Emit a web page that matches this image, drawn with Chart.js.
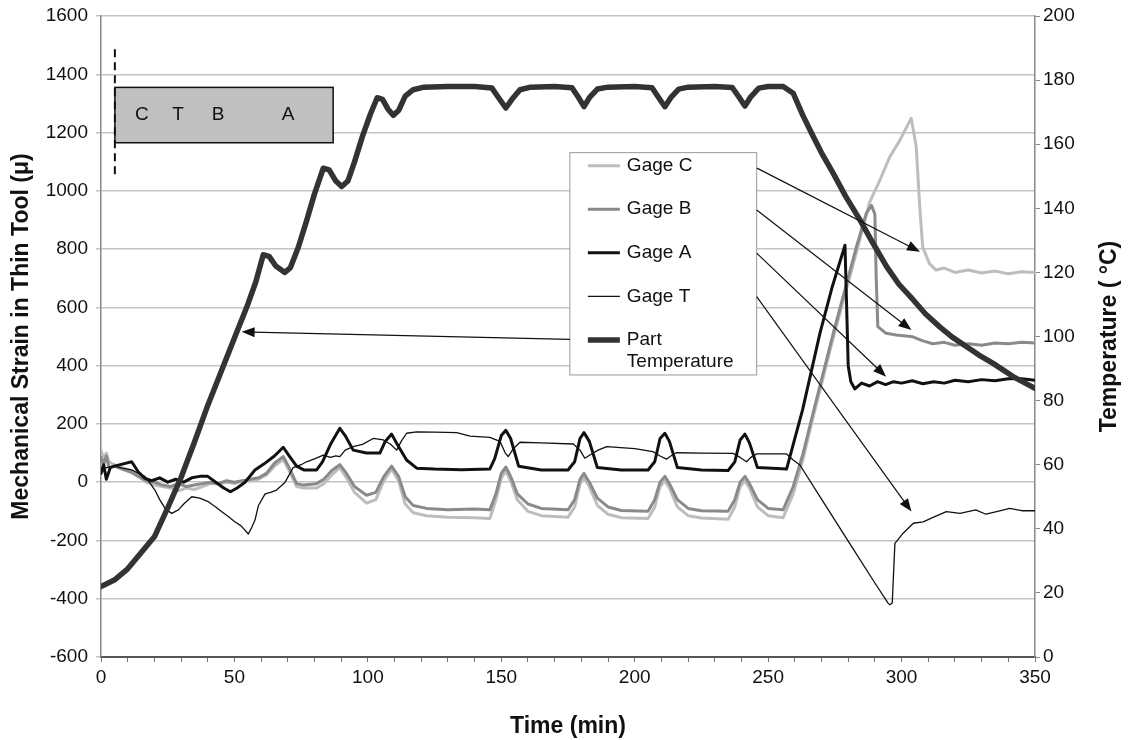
<!DOCTYPE html>
<html>
<head>
<meta charset="utf-8">
<script src="https://cdn.jsdelivr.net/npm/chart.js@4.4.0/dist/chart.umd.min.js"></script>
<style>
  html, body { margin: 0; padding: 0; background: #fff; }
</style>
</head>
<body>
<canvas id="myChart" width="1131" height="740"></canvas>
<script>
// ---- data (time in min, strain in micro-strain, temp in C) ----

// Gage A (thick black)
const timeA = [0, 1, 2, 3.5, 5, 8, 11.5, 14, 16.5, 19, 22, 25, 28, 31, 34, 37, 40, 43, 46, 48.5,
  51, 54, 57.7, 61, 65, 68.3, 70.5, 73.3, 76, 80.8, 83, 86, 89.5, 91.5, 94.5, 99.5, 104.5, 106.5, 108.9, 111,
  114.5, 118.3, 125, 135, 145.7, 147.5, 150, 151.7, 153.5, 156.5, 165, 175, 177.5, 179.5, 181, 183, 186, 195, 205, 207.5,
  209.5, 211.3, 213, 216, 225, 235, 237.5, 239.5, 241.3, 243, 246, 256.9, 262.9, 269.4, 274, 278.8, 280, 281, 282.5, 285,
  288, 291, 294, 297, 300, 304, 308, 312, 316, 320, 325, 330, 335, 340, 345, 350];
const gageA = [30, 60, 10, 50, 55, 62, 70, 35, 13, 5, 15, 0, 10, 0, 15, 20, 20, 0, -20, -33,
  -20, 0, 42, 62, 90, 120, 90, 55, 42, 42, 70, 130, 185, 160, 110, 100, 100, 140, 165, 130,
  76, 48, 45, 43, 45, 80, 160, 178, 150, 55, 42, 42, 70, 150, 170, 140, 50, 42, 42, 70,
  150, 168, 140, 50, 42, 40, 70, 145, 165, 135, 50, 45, 248, 511, 670, 813, 400, 345, 320, 340,
  330, 345, 335, 345, 340, 348, 338, 345, 340, 350, 345, 352, 348, 355, 355, 350];

// Gage B (mid grey)
const timeB = [0, 1, 2, 3, 5, 8, 11, 14, 17, 20, 23, 26, 29, 32, 35, 38, 41, 44, 47, 50,
  53, 56, 59, 62, 65, 68.3, 70.5, 73.3, 76, 80.8, 83.5, 86.5, 89.5, 92, 95, 99.5, 103, 106, 108.9, 111.5,
  114, 117, 122, 130, 140, 145.7, 148, 150, 151.7, 153.5, 156, 160, 165, 175, 177.5, 179.5, 181, 183, 186, 190,
  195, 205, 207.5, 209.5, 211.3, 213, 216, 220, 225, 235, 237.5, 239.5, 241.3, 243, 246, 250, 255.6, 259.4, 263.1, 266.9,
  274.4, 283.1, 286.8, 288.7, 290, 290.5, 291.1, 294.2, 298, 304.2, 308, 311.7, 316, 320, 325, 330, 335, 340, 345, 350];
const gageB = [85, 60, 90, 50, 55, 45, 35, 20, 5, 0, -10, -15, -5, -15, -10, -5, 0, -5, 5, 0,
  5, 10, 15, 30, 65, 88, 50, -5, -10, -5, 10, 40, 60, 30, -15, -45, -35, 20, 55, 20,
  -50, -80, -90, -95, -92, -95, -40, 30, 52, 20, -40, -75, -90, -95, -60, 10, 30, 0, -55, -85,
  -97, -100, -60, 0, 20, -5, -60, -90, -98, -100, -60, 0, 20, -5, -60, -90, -95, -15, 99, 240,
  511, 808, 923, 950, 920, 700, 534, 511, 505, 499, 485, 475, 480, 470, 475, 470, 478, 475, 480, 478];

// Gage C (light grey)
const timeC = [0, 1, 2, 3, 5, 8, 11, 14, 17, 20, 23, 26, 29, 32, 35, 38, 41, 44, 47, 50,
  53, 56, 59, 62, 65, 68.3, 70.5, 73.3, 76, 80.8, 83.5, 86.5, 89.5, 92, 95, 99.5, 103, 106, 108.9, 111.5,
  114, 117, 122, 130, 140, 145.7, 148, 150, 151.7, 153.5, 156, 160, 165, 175, 177.5, 179.5, 181, 183, 186, 190,
  195, 205, 207.5, 209.5, 211.3, 213, 216, 220, 225, 235, 237.5, 239.5, 241.3, 243, 246, 250, 255.6, 259.4, 263.1, 266.9,
  274.4, 283.1, 288, 291.9, 295.6, 299.4, 303.6, 305.5, 306.8, 307.9, 310.4, 312.9, 316, 320, 325, 330, 335, 340, 345, 350];
const gageC = [110, 80, 100, 70, 60, 50, 40, 20, 0, -10, -15, -20, -30, -20, -25, -15, -5, -5, 0, -5,
  5, 5, 10, 25, 55, 78, 40, -15, -20, -20, -5, 25, 50, 15, -35, -72, -60, 5, 45, 5,
  -75, -105, -115, -120, -122, -125, -60, 15, 38, 5, -60, -100, -115, -120, -85, -5, 15, -15, -80, -110,
  -122, -125, -85, -15, 5, -20, -85, -115, -123, -127, -85, -15, 5, -20, -85, -115, -122, -40, 80, 225,
  495, 790, 960, 1037, 1117, 1174, 1249, 1151, 946, 808, 751, 728, 735, 720, 728, 718, 725, 715, 722, 720];

// Gage T (thin black)
const timeT = [0, 2, 5, 8, 11.5, 14, 16.5, 18.5, 20.2, 22, 24, 26.5, 29, 31, 34, 37, 40.2, 43, 45, 47.7,
  50, 52.5, 55.2, 56.5, 57.7, 59, 61.5, 63.5, 65.8, 69, 72, 75, 77, 80, 83.3, 86, 88, 89.5, 91.5, 94.5,
  98, 102, 105.8, 108.5, 110.8, 112.5, 114.5, 118.3, 125, 133.3, 138.3, 145.7, 149.5, 151.5, 152.6, 154.5, 157, 165, 177, 179.5,
  181.3, 183.5, 186.3, 189.5, 200, 206.8, 209.5, 211.9, 213.5, 215.6, 225, 236.9, 239.5, 241.9, 243.5, 245.7, 256.9, 259.4, 261.9, 270,
  280, 290, 295, 295.6, 296.5, 297.5, 300.6, 304.4, 308.1, 312, 316.8, 321.9, 327.8, 331.6, 336, 340.5, 345, 350];
const gageT = [40, 50, 55, 48, 42, 30, 19, -5, -27, -60, -90, -107, -95, -75, -50, -55, -67, -85, -100, -118,
  -135, -150, -178, -155, -130, -80, -40, -35, -27, 0, 50, 60, 70, 80, 93, 85, 90, 88, 110, 122,
  130, 150, 145, 130, 110, 140, 168, 173, 172, 170, 158, 154, 140, 100, 88, 115, 137, 135, 131, 110,
  82, 95, 110, 122, 115, 105, 90, 79, 90, 101, 100, 99, 85, 70, 85, 97, 97, 76, 59, -58,
  -202, -346, -416, -421, -415, -210, -175, -141, -136, -120, -101, -107, -95, -110, -100, -90, -98, -98];

// Part temperature (right axis)
const timeP = [0, 5, 10, 15, 20, 25, 30, 35, 40, 45, 50, 55, 58, 60.8, 63, 65.5, 68.9, 71, 74, 77,
  80, 83.3, 85.5, 88, 90.2, 92.5, 95, 98, 101, 103.5, 105.5, 107.5, 109.5, 111.5, 114, 117, 121, 130, 140, 146.5,
  149, 151.7, 154, 157, 161, 170, 176.5, 179, 181, 183, 186, 190, 200, 206.5, 209, 211.3, 213.5, 216.5, 220, 230,
  236.5, 239, 241.3, 243.5, 246.5, 250, 255.6, 259.4, 263, 266.9, 270, 274.4, 279, 284.4, 289, 294.4, 299, 304.4, 309, 314.3,
  319, 324.4, 329, 334.3, 338, 341.8, 346, 350];
const partTemp = [22, 24, 27.5, 32.5, 37.5, 46.5, 56, 67, 78.5, 89, 99.5, 110, 117, 125.5, 125, 122, 120, 121.5, 128, 136,
  144.5, 152.5, 152, 148.5, 146.8, 148.5, 154.5, 162.5, 169.5, 174.5, 174, 171, 169, 170.5, 175, 177, 177.8, 178, 178, 177.5,
  174.5, 171.3, 174, 177, 177.8, 178, 177.6, 174.5, 171.7, 174.5, 177.2, 177.8, 178, 177.6, 174.5, 171.7, 174.5, 177.2, 177.8, 178,
  177.7, 174.8, 171.9, 174.8, 177.5, 178, 178, 175.9, 169, 162.4, 157.3, 150.9, 143.8, 136.4, 129.5, 121.8, 116.3, 111.4, 107, 103,
  99.8, 96.8, 94.2, 91.6, 89.6, 87.5, 85.6, 83.8];

const xTicksMajor = [0, 50, 100, 150, 200, 250, 300, 350];

// ---- annotation placement, in data units (min / micro-strain) ----
const insetBox = { x0: 5.2, x1: 87, y0: 1165, y1: 1355 };
const insetDash = { x: 5.2, y0: 1043, y1: 1486 };
const insetLetters = ['C', 'T', 'B', 'A'];
const insetLetterX = [15.3, 28.9, 43.9, 70.1];
const insetLetterY = 1260;

const legendBox = { x0: 175.7, x1: 245.7, y0: 368, y1: 1131 };
const legendOrder = [3, 2, 0, 1, 4];   // dataset index for each legend row (C, B, A, T, Part)

const arrows = [
  { from: [245.8, 1078], to: [306.9, 791] },
  { from: [245.7, 934], to: [303.7, 522] },
  { from: [245.7, 786], to: [294.2, 362] },
  { from: [245.7, 637], to: [303.7, -101] },
  { from: [175.7, 490], to: [52.7, 516] }
];

const rightTitle = 'Temperature ( °C)';

function pairs(xs, ys) {
  return xs.map((x, i) => ({ x: x, y: ys[i] }));
}

const FONT = "'Liberation Sans', Arial, sans-serif";
Chart.defaults.font.family = FONT;
Chart.defaults.font.size = 19;
Chart.defaults.color = '#111';

function drawArrow(ctx, x0, y0, x1, y1) {
  const a = Math.atan2(y1 - y0, x1 - x0);
  const len = 13, half = 5;
  ctx.beginPath();
  ctx.moveTo(x0, y0);
  ctx.lineTo(x1 - len * 0.8 * Math.cos(a), y1 - len * 0.8 * Math.sin(a));
  ctx.stroke();
  ctx.beginPath();
  ctx.moveTo(x1, y1);
  ctx.lineTo(x1 - len * Math.cos(a) + half * Math.sin(a), y1 - len * Math.sin(a) - half * Math.cos(a));
  ctx.lineTo(x1 - len * Math.cos(a) - half * Math.sin(a), y1 - len * Math.sin(a) + half * Math.cos(a));
  ctx.closePath();
  ctx.fill();
}

// inset sketch, custom legend box, pointer arrows, right axis title
const extras = {
  id: 'extras',
  afterDatasetsDraw(chart) {
    const ctx = chart.ctx;
    const X = v => chart.scales.x.getPixelForValue(v);
    const Y = v => chart.scales.y.getPixelForValue(v);
    ctx.save();

    // inset tool sketch
    let bx = X(insetBox.x0), by = Y(insetBox.y1);
    let bw = X(insetBox.x1) - bx, bh = Y(insetBox.y0) - by;
    ctx.fillStyle = '#c0c0c0';
    ctx.fillRect(bx, by, bw, bh);
    ctx.strokeStyle = '#111';
    ctx.lineWidth = 1.5;
    ctx.strokeRect(bx, by, bw, bh);
    ctx.setLineDash([8, 5]);
    ctx.lineWidth = 2;
    ctx.beginPath();
    ctx.moveTo(X(insetDash.x), Y(insetDash.y1));
    ctx.lineTo(X(insetDash.x), Y(insetDash.y0));
    ctx.stroke();
    ctx.setLineDash([]);
    ctx.fillStyle = '#111';
    ctx.font = '19px ' + FONT;
    ctx.textAlign = 'center';
    ctx.textBaseline = 'middle';
    insetLetters.forEach((s, i) => ctx.fillText(s, X(insetLetterX[i]), Y(insetLetterY)));

    // legend
    let lx = X(legendBox.x0), ly = Y(legendBox.y1);
    let lw = X(legendBox.x1) - lx, lh = Y(legendBox.y0) - ly;
    ctx.fillStyle = '#fff';
    ctx.fillRect(lx, ly, lw, lh);
    ctx.strokeStyle = '#999';
    ctx.lineWidth = 1;
    ctx.strokeRect(lx, ly, lw, lh);
    ctx.textAlign = 'left';
    legendOrder.forEach((di, row) => {
      const ds = chart.data.datasets[di];
      const ry = ly + 13 + row * 43.6;
      ctx.strokeStyle = ds.borderColor;
      ctx.lineWidth = ds.borderWidth;
      ctx.lineCap = 'butt';
      ctx.beginPath();
      ctx.moveTo(lx + 18, ry);
      ctx.lineTo(lx + 50, ry);
      ctx.stroke();
      ctx.fillStyle = '#111';
      const lines = ds.label.split(' ');
      if (di === 4) {
        ctx.fillText(lines[0], lx + 57, ry);
        ctx.fillText(lines[1], lx + 57, ry + 22);
      } else {
        ctx.fillText(ds.label, lx + 57, ry);
      }
    });

    // arrows
    ctx.strokeStyle = '#111';
    ctx.fillStyle = '#111';
    ctx.lineWidth = 1.2;
    arrows.forEach(a => drawArrow(ctx, X(a.from[0]), Y(a.from[1]), X(a.to[0]), Y(a.to[1])));

    // right axis title, reading bottom-to-top like the left one
    const ca = chart.chartArea;
    ctx.translate(chart.width - 21, (ca.top + ca.bottom) / 2);
    ctx.rotate(-Math.PI / 2);
    ctx.font = 'bold 23px ' + FONT;
    ctx.textAlign = 'center';
    ctx.textBaseline = 'middle';
    ctx.fillText(rightTitle, 0, 0);

    ctx.restore();
  }
};

const ctx = document.getElementById('myChart').getContext('2d');
const myChart = new Chart(ctx, {
  type: 'line',
  data: {
    datasets: [
      { label: 'Gage A', data: pairs(timeA, gageA), yAxisID: 'y', borderColor: '#111', borderWidth: 3, order: 1 },
      { label: 'Gage T', data: pairs(timeT, gageT), yAxisID: 'y', borderColor: '#111', borderWidth: 1.3, order: 2 },
      { label: 'Gage B', data: pairs(timeB, gageB), yAxisID: 'y', borderColor: '#8a8a8a', borderWidth: 3, order: 3 },
      { label: 'Gage C', data: pairs(timeC, gageC), yAxisID: 'y', borderColor: '#bdbdbd', borderWidth: 3, order: 4 },
      { label: 'Part Temperature', data: pairs(timeP, partTemp), yAxisID: 'y1', borderColor: '#333', borderWidth: 5.5, order: 0 }
    ]
  },
  options: {
    responsive: false,
    animation: false,
    layout: { padding: { top: 16, left: 0, right: 0, bottom: 0 } },
    plugins: { legend: { display: false }, tooltip: { enabled: false } },
    elements: {
      point: { radius: 0 },
      line: { tension: 0, borderJoinStyle: 'round', borderCapStyle: 'round', fill: false }
    },
    scales: {
      x: {
        type: 'linear', min: 0, max: 350,
        ticks: {
          stepSize: 10, autoSkip: false, maxRotation: 0, padding: 4,
          callback: v => xTicksMajor.includes(v) ? String(v) : ''
        },
        grid: { drawOnChartArea: false, drawTicks: true, tickLength: 5, color: '#777' },
        border: { color: '#555', width: 2 },
        title: { display: true, text: 'Time (min)', font: { size: 23, weight: 'bold' }, padding: { top: 9, bottom: 0 } },
        afterFit: s => { s.height = 83; s.paddingLeft = 0; s.paddingRight = 0; }
      },
      y: {
        position: 'left', min: -600, max: 1600,
        ticks: { stepSize: 200, padding: 8, callback: v => String(v) },
        grid: { color: '#c4c4c4', lineWidth: 1.5, tickLength: 5 },
        border: { color: '#888', width: 1.5 },
        title: { display: true, text: 'Mechanical Strain in Thin Tool (μ)', font: { size: 23, weight: 'bold' }, padding: { top: 8, bottom: 0 } },
        afterFit: s => { s.width = 101; s.paddingTop = 0; s.paddingBottom = 0; }
      },
      y1: {
        position: 'right', min: 0, max: 200,
        ticks: { stepSize: 20, padding: 3, callback: v => String(v) },
        grid: { drawOnChartArea: false, tickLength: 5, color: '#888' },
        border: { color: '#888', width: 1.5 },
        title: { display: false },
        afterFit: s => { s.width = 96; s.paddingTop = 0; s.paddingBottom = 0; }
      }
    }
  },
  plugins: [extras]
});
</script>
</body>
</html>
